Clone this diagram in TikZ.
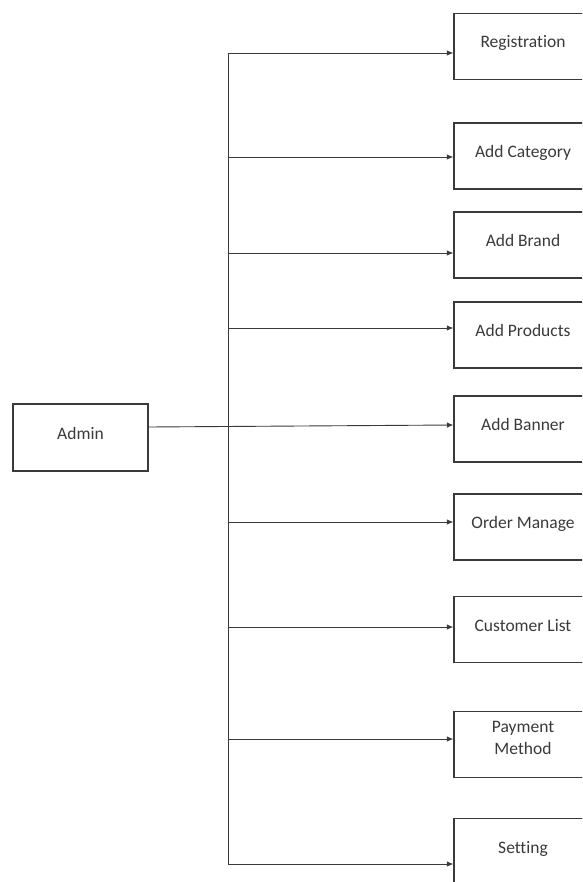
\documentclass[tikz,border=0pt]{standalone}
\usepackage{fontspec}
\setmainfont{Carlito}[Ligatures=NoCommon]
\usetikzlibrary{arrows.meta}
\definecolor{ink}{HTML}{3A3A3A}
\begin{document}
\begin{tikzpicture}[x=1pt,y=-1pt,
  box/.style={draw=ink, line width=1.2pt, minimum width=138pt, minimum height=66pt,
    inner sep=0pt, align=center, text=ink, font=\fontsize{17.5}{22.5}\selectfont,
    text height=12pt, text depth=9pt},
  twoline/.style={text height=, text depth=13pt},
  arr/.style={draw=ink, line width=0.9pt, -{Latex[length=6.5pt,width=5.5pt]}},
  trunkline/.style={draw=ink, line width=0.9pt}]
\useasboundingbox (0,0) rectangle (582,882);
\clip (0,0) rectangle (582,882);
\fill[white] (0,0) rectangle (582,882);

\node[box, minimum width=135pt, minimum height=67pt] (admin) at (80.5,437.5) {Admin};

\node[box] (reg)    at (523,46.5)  {Registration};
\node[box] (cat)    at (523,156)   {Add Category};
\node[box] (brand)  at (523,245)   {Add Brand};
\node[box] (prod)   at (523,335)   {Add Products};
\node[box] (banner) at (523,429)   {Add Banner};
\node[box] (order)  at (523,527)   {Order Manage};
\node[box] (cust)   at (523,629.5) {Customer List};
\node[box, twoline] (pay) at (523,744.5) {Payment\\Method};
\node[box] (set)    at (523,851.5) {Setting};

\coordinate (b1) at (228,53);
\coordinate (b2) at (228,157);
\coordinate (b3) at (228,253);
\coordinate (b4) at (228,328);
\coordinate (b6) at (228,522);
\coordinate (b7) at (228,627);
\coordinate (b8) at (228,739);
\coordinate (b9) at (228,864);

\draw[trunkline] (b1) -- (b9);

\draw[arr] (b1) -- (b1 -| reg.west);
\draw[arr] (b2) -- (b2 -| cat.west);
\draw[arr] (b3) -- (b3 -| brand.west);
\draw[arr] (b4) -- (b4 -| prod.west);
\draw[arr] (admin.east |- 0,427) -- (banner.west |- 0,425);
\draw[arr] (b6) -- (b6 -| order.west);
\draw[arr] (b7) -- (b7 -| cust.west);
\draw[arr] (b8) -- (b8 -| pay.west);
\draw[arr] (b9) -- (b9 -| set.west);
\end{tikzpicture}
\end{document}
